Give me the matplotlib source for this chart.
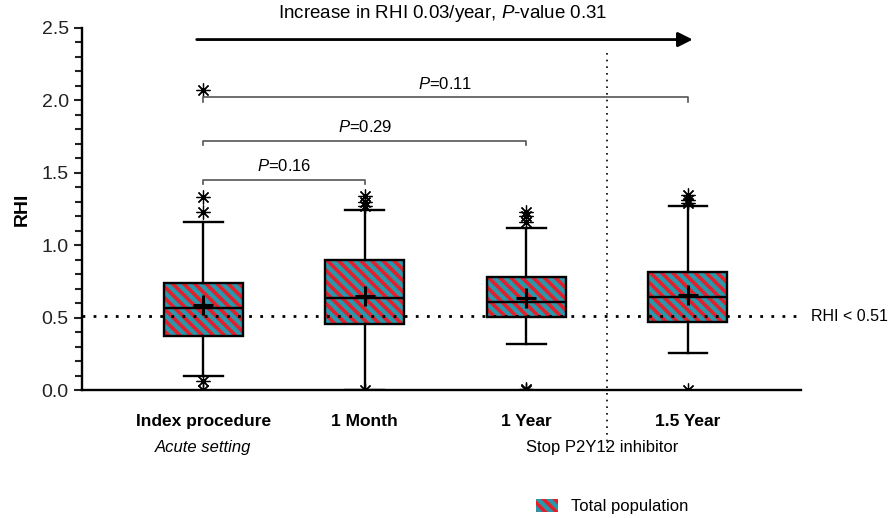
import matplotlib
matplotlib.use('Agg')
from matplotlib import pyplot as plt
from matplotlib.patches import PathPatch, Patch
from matplotlib.ticker import MultipleLocator, FormatStrFormatter

plt.rcParams['font.family'] = ['Liberation Sans', 'DejaVu Sans']
plt.rcParams['mathtext.fontset'] = 'custom'
plt.rcParams['mathtext.rm'] = 'Liberation Sans'
plt.rcParams['mathtext.it'] = 'Liberation Sans:italic'
plt.rcParams['hatch.linewidth'] = 2.6

# 数据
categories = ['Index procedure', '1 Month', '1 Year', '1.5 Year']
q1 = [0.375, 0.456, 0.505, 0.47]
medians = [0.565, 0.635, 0.605, 0.64]
q3 = [0.74, 0.898, 0.78, 0.815]
means = [0.59, 0.65, 0.635, 0.655]
whislo = [0.10, 0.0, 0.32, 0.255]
whishi = [1.16, 1.24, 1.12, 1.27]
fliers = [[0.0, 0.06, 1.23, 1.33, 2.07],
          [0.0, 1.27, 1.30, 1.34],
          [0.0, 0.01, 1.16, 1.20, 1.23],
          [0.0, 1.29, 1.31, 1.35]]
threshold = 0.51
comparisons = [(0, 1, 'P=0.16', 1.45), (0, 2, 'P=0.29', 1.72), (0, 3, 'P=0.11', 2.02)]

RED = '#E0202A'
TEAL = '#2A98AC'
HATCH = '\\\\\\'

fig = plt.figure(figsize=(8.91, 5.18), dpi=100)
ax = fig.add_axes([0.092, 0.247, 0.807, 0.699])

stats = []
for i in range(len(categories)):
    stats.append(dict(q1=q1[i], med=medians[i], q3=q3[i], mean=means[i],
                      whislo=whislo[i], whishi=whishi[i], fliers=fliers[i]))

bp = ax.bxp(stats, positions=range(len(categories)), widths=0.49, capwidths=0.24,
            patch_artist=True, showmeans=True,
            whiskerprops=dict(color='black', lw=1.7),
            capprops=dict(color='black', lw=1.7),
            medianprops=dict(color='black', lw=1.7),
            meanprops=dict(marker='+', markersize=14, markeredgewidth=2.2,
                           markeredgecolor='black'),
            flierprops=dict(marker=(8, 2, 0), markersize=10, markeredgewidth=0.9,
                            markeredgecolor='black'))
for box in bp['boxes']:
    box.set_facecolor(TEAL)
    box.set_edgecolor(RED)
    box.set_hatch(HATCH)
    box.set_linewidth(0)
    ax.add_patch(PathPatch(box.get_path(), fill=False, ec='black', lw=1.7, zorder=2.5))

# 阈值线
ax.axhline(threshold, color='black', lw=2, ls=(0, (1, 3)), zorder=4)
ax.text(3.76, threshold, 'RHI < 0.51', ha='left', va='center', fontsize=11.5,
        clip_on=False)

# 比较括号
for a, b, label, y in comparisons:
    ax.plot([a, a, b, b], [y - 0.03, y, y, y - 0.03], color='#555555', lw=1.2)
    ax.text((a + b) / 2, y + 0.04, '$\\it{P}$' + label[1:], ha='center', va='bottom',
            fontsize=12)

# 趋势箭头
ax.annotate('', xy=(3.03, 2.42), xytext=(-0.04, 2.42), annotation_clip=False,
            arrowprops=dict(arrowstyle='-|>', lw=2, color='black', mutation_scale=22,
                            shrinkA=0, shrinkB=0))
ax.text(1.48, 2.6, 'Increase in RHI 0.03/year, $\\it{P}$-value 0.31', ha='center',
        va='center', fontsize=13.5, clip_on=False)

# 分隔线
ax.plot([2.5, 2.5], [-0.40, 2.35], color='black', lw=1.2, ls=(0, (1, 3)),
        clip_on=False)

ax.set_xlim(-0.75, 3.7)
ax.set_ylim(0, 2.5)
ax.set_xticks(range(len(categories)))
ax.set_xticklabels(categories, fontsize=12.5, fontweight='bold')
ax.tick_params(axis='x', length=0, pad=17)
ax.yaxis.set_major_locator(MultipleLocator(0.5))
ax.yaxis.set_minor_locator(MultipleLocator(0.1))
ax.yaxis.set_major_formatter(FormatStrFormatter('%.1f'))
ax.tick_params(axis='y', which='major', length=6, width=1.5, labelsize=14,
               color='#222222', labelcolor='#222222')
ax.tick_params(axis='y', which='minor', length=5, width=1.5, color='#222222')
ax.set_ylabel('RHI', fontsize=14, fontweight='bold', labelpad=8)
for s in ['top', 'right']:
    ax.spines[s].set_visible(False)
for s in ['left', 'bottom']:
    ax.spines[s].set_linewidth(1.7)

ax.text(0, -0.395, 'Acute setting', style='italic', ha='center', va='center', fontsize=12,
        clip_on=False)
ax.text(2.47, -0.395, 'Stop P2Y12 inhibitor', ha='center', va='center', fontsize=12,
        clip_on=False)

handle = Patch(facecolor=TEAL, edgecolor=RED, hatch=HATCH, lw=0)
fig.legend([handle], ['Total population'], loc='center left',
           bbox_to_anchor=(0.585, 0.022), frameon=False, fontsize=12,
           handlelength=1.3, handleheight=0.8, handletextpad=0.8)

fig.savefig('out.png', dpi=100)
